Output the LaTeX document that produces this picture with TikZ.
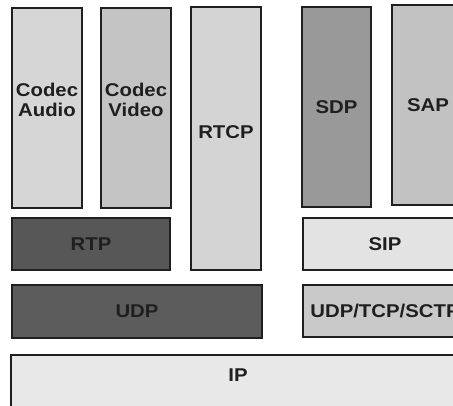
\documentclass[tikz,border=0pt]{standalone}
\usepackage{fontspec}
\newfontfamily\layerfont{Liberation Sans}[FakeStretch=1.1]
\usetikzlibrary{positioning}
\tikzset{
  layer/.style={draw=black!88, line width=1.6pt, inner sep=0pt, text=black!88,
    font=\layerfont\bfseries\fontsize{18.5}{20}\selectfont, align=center},
  bar/.style={layer, minimum height=52pt},
  pillar/.style={layer, minimum width=70pt, minimum height=200pt},
}

\begin{document}
\begin{tikzpicture}[x=1pt,y=-1pt]
  \useasboundingbox (0,0) rectangle (453,405);
  \clip (0,0) rectangle (453,405);
  \fill[white] (0,0) rectangle (453,405);
  % media plane
  \node[pillar, fill=black!16, label={[layer, draw=none, yshift=8pt]center:Codec\\Audio}] (audio) at (47,108) {};
  \node[pillar, fill=black!23, label={[layer, draw=none, yshift=8pt]center:Codec\\Video}] (video) at (136,108) {};
  \node[layer, fill=black!17, minimum width=70pt, minimum height=263pt,
    label={[layer, draw=none, yshift=6pt]center:RTCP}] (rtcp) at (226,138.5) {};
  \node[bar, fill=black!66, minimum width=158pt] (rtp) at (91,244) {RTP};
  % signalling plane
  \node[pillar, fill=black!40, minimum width=69pt] (sdp) at (336.5,107) {SDP};
  \node[pillar, fill=black!24, minimum width=72pt] (sap) at (428,105) {SAP};
  \node[bar, fill=black!11, minimum width=164pt] (sip) at (385,244) {SIP};
  % transport
  \node[bar, fill=black!64, minimum width=250pt, minimum height=53pt] (udp) at (137,311.5) {UDP};
  \node[bar, fill=black!21, minimum width=164pt] (trans) at (385,311) {UDP/TCP/SCTP};
  \node[layer, fill=black!9, minimum width=454pt, minimum height=60pt,
    label={[layer, draw=none, yshift=10pt]center:IP}] (ip) at (238,385) {};
\end{tikzpicture}
\end{document}
